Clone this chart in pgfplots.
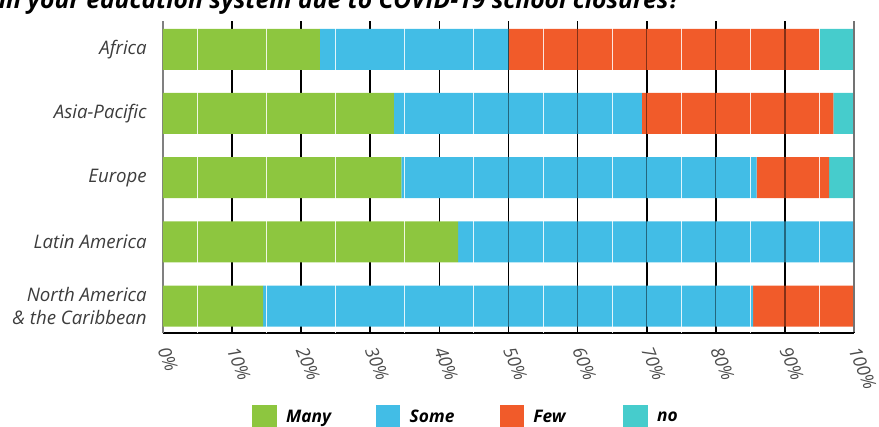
\documentclass[border=0pt]{standalone}
\usepackage{pgfplots}
\pgfplotsset{compat=1.18}
\usepackage{pgfplotstable}
\usepackage{fontspec}
\setmainfont{Open Sans}
\definecolor{cMany}{RGB}{141,198,63}
\definecolor{cSome}{RGB}{66,189,230}
\definecolor{cFew}{RGB}{241,91,42}
\definecolor{cNo}{RGB}{70,204,204}
\definecolor{lbl}{RGB}{60,60,60}
\pgfplotstableread{
y Many Some Few No
4 22.7 27.3 45.0 5.0
3 33.4 35.9 27.7 3.0
2 34.5 51.4 10.5 3.6
1 42.7 57.3 0 0
0 14.5 70.9 14.6 0
}\datatable
\begin{document}
\begin{tikzpicture}
\begin{axis}[
  name=ax,
  at={(0,0)}, anchor=south west,
  scale only axis,
  width=518.25pt, height=234pt,
  xbar stacked,
  bar width=30.75pt,
  xmin=0, xmax=100,
  ymin=-0.42, ymax=4.44,
  axis x line*=bottom,
  axis y line*=left,
  x axis line style={black, line width=1.1pt},
  y axis line style={black!50, line width=1.1pt},
  xtick={0,10,...,100},
  xticklabels={0\%,10\%,20\%,30\%,40\%,50\%,60\%,70\%,80\%,90\%,100\%},
  ytick={0,1,2,3,4},
  yticklabels={{North America\\\& the Caribbean},{Latin America},{Europe},{Asia-Pacific},{Africa}},
  major tick length=0pt,
  xmajorgrids,
  major grid style={black, line width=1.2pt},
  xticklabel style={font=\fontsize{13.5}{16}\selectfont\itshape, text=black!70, xshift=5pt, yshift=-9pt, rotate=-68, anchor=north west, inner sep=0pt},
  yticklabel style={font=\fontsize{14}{17}\selectfont\itshape, text=lbl, align=right, inner sep=0pt, xshift=-12pt},
  legend columns=4,
  legend style={draw=none, fill=none, inner sep=0pt, outer sep=0pt,
    at={(0.1292,-0.2308)}, anchor=north west,
    font=\fontsize{13}{15}\selectfont\bfseries\itshape,
    nodes={inner sep=0pt},
    /tikz/every odd column/.append style={column sep=7pt}},
  legend image code/.code={\fill[#1] (0pt,-9.15pt) rectangle (18.3pt,9.15pt);},
]
\addplot[fill=cMany, draw=none] table[x=Many, y=y] {\datatable};
\addlegendentry{\makebox[67.5pt][l]{Many}}
\addplot[fill=cSome, draw=none] table[x=Some, y=y] {\datatable};
\addlegendentry{\makebox[67.5pt][l]{Some}}
\addplot[fill=cFew, draw=none] table[x=Few, y=y] {\datatable};
\addlegendentry{\makebox[67.5pt][l]{Few}}
\addplot[fill=cNo, draw=none] table[x=No, y=y] {\datatable};
\addlegendentry{\makebox[67.5pt][l]{no}}
\end{axis}
\foreach \p in {5,15,25,35,45,55,65,75,85,95}{
  \draw[white, opacity=0.85, line width=0.75pt] ([xshift=5.1825pt*\p]ax.south west) -- ([xshift=5.1825pt*\p, yshift=234pt]ax.south west);
}
\foreach \p in {50,60,70,80,90}{
  \draw[black, opacity=0.45, line width=0.9pt] ([xshift=5.1825pt*\p, yshift=0.6pt]ax.south west) -- ([xshift=5.1825pt*\p, yshift=234pt]ax.south west);
}
\draw[black!55, line width=0.9pt] ([yshift=0.6pt]ax.south east) -- ([yshift=234pt]ax.south east);
\node[anchor=base east, inner sep=0pt, font=\fontsize{18.5}{22}\selectfont\bfseries\itshape] at ([xshift=387.75pt, yshift=243.75pt]ax.south west) {in your education system due to COVID-19 school closures?};
\pgfresetboundingbox
\useasboundingbox ([xshift=-122.25pt, yshift=-69.75pt]ax.south west) rectangle ([xshift=537pt, yshift=249.75pt]ax.south west);
\end{tikzpicture}
\end{document}
